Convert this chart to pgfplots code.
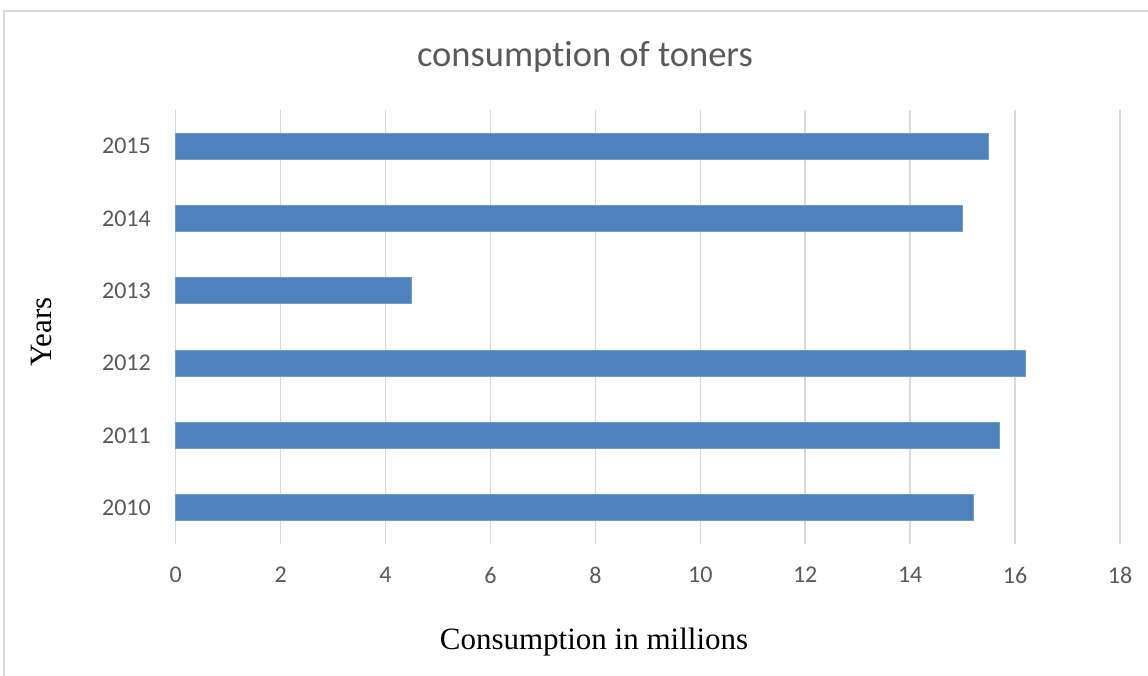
\documentclass[border=0pt]{standalone}
\usepackage{pgfplots}
\pgfplotsset{compat=1.18}
\usepackage{fontspec}
\setmainfont{Carlito}[Ligatures={NoCommon}]
\newfontfamily\seriffont{Liberation Serif}
\definecolor{barblue}{HTML}{4F81BD}
\definecolor{txtgray}{HTML}{595959}
\definecolor{gridgray}{HTML}{D9D9D9}
\begin{document}
\begin{tikzpicture}[x=1pt,y=1pt]
\useasboundingbox (0,0) rectangle (1148,676);
\draw[gridgray, line width=1.2pt] (4,0) -- (4,665) -- (1148,665);
\begin{axis}[
  at={(175.7pt,132pt)}, anchor=south west,
  scale only axis, width=944.3pt, height=434pt,
  xmin=0, xmax=18, ymin=-0.5, ymax=5.5,
  xtick={0,2,...,18},
  ytick={0,1,2,3,4,5},
  yticklabels={2010,2011,2012,2013,2014,2015},
  major tick length=0pt,
  axis line style={draw=none},
  xmajorgrids, ymajorgrids=false,
  major grid style={gridgray, line width=1.5pt},
  /pgf/number format/assume math mode=true,
  ticklabel style={font=\fontsize{24}{28}\selectfont, text=txtgray, inner sep=0pt},
  xticklabel style={anchor=center, yshift=-31pt},
  yticklabel style={anchor=east, xshift=-24.7pt},
  clip=false,
]
\addplot[xbar, bar width=26pt, fill=barblue, draw=barblue!80!white, line width=0.8pt]
  coordinates {(15.2,0) (15.7,1) (16.2,2) (4.5,3) (15.0,4) (15.5,5)};
\end{axis}
\node[anchor=base, text=txtgray, font=\fontsize{36.5}{42}\selectfont] at (585,609) {consumption of toners};
\node[anchor=center, font=\seriffont\fontsize{31}{36}\selectfont] at (594,34) {Consumption in millions};
\node[anchor=center, rotate=90, font=\seriffont\fontsize{31}{36}\selectfont] at (41.7,344) {Years};
\end{tikzpicture}
\end{document}
